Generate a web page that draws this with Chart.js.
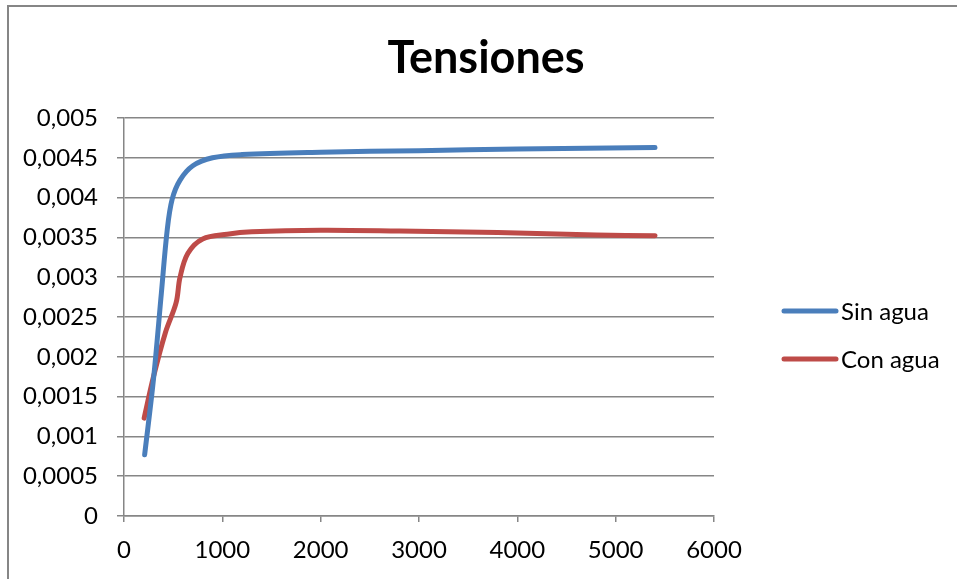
<!DOCTYPE html>
<html>
<head>
<meta charset="utf-8">
<title>Tensiones</title>
<script src="https://cdn.jsdelivr.net/npm/chart.js@4/dist/chart.umd.min.js"></script>
<style>
  html, body { margin: 0; padding: 0; background: #ffffff; }
  canvas { display: block; }
</style>
</head>
<body>
<canvas id="chart" width="957" height="579"></canvas>
<script>
// Series: strain vs. load step, without and with water
const sinAguaX = [210, 300, 380, 440, 490, 570, 700, 900, 1200, 2000, 3000, 4000, 5400];
const sinAguaY = [0.00077, 0.00172, 0.0028, 0.0036, 0.00398, 0.00422, 0.0044, 0.0045, 0.00454, 0.00457, 0.00459, 0.00461, 0.00463];

const conAguaX = [205, 300, 420, 530, 570, 650, 800, 1050, 1300, 2000, 2800, 3800, 4800, 5400];
const conAguaY = [0.00123, 0.00175, 0.0023, 0.00268, 0.003, 0.0033, 0.00348, 0.00354, 0.00357, 0.00359, 0.00358, 0.00356, 0.00353, 0.00352];

const seriesNames = ['Sin agua', 'Con agua'];
const seriesColors = ['#4A7EBB', '#BE4B48'];

const xTickLabels = ['0', '1000', '2000', '3000', '4000', '5000', '6000'];
const yTickLabels = ['0', '0,0005', '0,001', '0,0015', '0,002', '0,0025', '0,003', '0,0035', '0,004', '0,0045', '0,005'];

const toPoints = (xs, ys) => xs.map((x, i) => ({ x: x, y: ys[i] }));

const GRID = '#868686';
const FONT = 'Lato';

// White background plus the frame around the whole chart
const framePlugin = {
  id: 'frame',
  beforeDraw(chart) {
    const ctx = chart.ctx;
    ctx.save();
    ctx.fillStyle = '#ffffff';
    ctx.fillRect(0, 0, chart.width, chart.height);
    ctx.strokeStyle = GRID;
    ctx.lineWidth = 2;
    ctx.beginPath();
    ctx.moveTo(8, chart.height);
    ctx.lineTo(8, 6);
    ctx.lineTo(chart.width, 6);
    ctx.stroke();
    ctx.restore();
  }
};

// Legend to the right of the plot: a short line sample followed by the name
const sideLegend = {
  id: 'sideLegend',
  afterDraw(chart) {
    const ctx = chart.ctx;
    const area = chart.chartArea;
    const x0 = area.right + 70;
    const lineLen = 52;
    const yMid = (area.top + area.bottom) / 2 - 6;
    ctx.save();
    ctx.font = '24px ' + FONT;
    ctx.textBaseline = 'middle';
    ctx.textAlign = 'left';
    chart.data.datasets.forEach((ds, i) => {
      const y = yMid + i * 48;
      ctx.strokeStyle = ds.borderColor;
      ctx.lineWidth = 5;
      ctx.lineCap = 'round';
      ctx.beginPath();
      ctx.moveTo(x0, y);
      ctx.lineTo(x0 + lineLen, y);
      ctx.stroke();
      ctx.fillStyle = '#000000';
      ctx.fillText(ds.label, x0 + lineLen + 5, y + 1);
    });
    ctx.restore();
  }
};

new Chart(document.getElementById('chart'), {
  type: 'scatter',
  data: {
    datasets: [
      {
        label: seriesNames[0],
        data: toPoints(sinAguaX, sinAguaY),
        showLine: true,
        borderColor: seriesColors[0],
        backgroundColor: seriesColors[0],
        borderWidth: 5,
        borderCapStyle: 'round',
        borderJoinStyle: 'round',
        pointRadius: 0,
        tension: 0.35
      },
      {
        label: seriesNames[1],
        data: toPoints(conAguaX, conAguaY),
        showLine: true,
        borderColor: seriesColors[1],
        backgroundColor: seriesColors[1],
        borderWidth: 5,
        borderCapStyle: 'round',
        borderJoinStyle: 'round',
        pointRadius: 0,
        tension: 0.35
      }
    ]
  },
  options: {
    responsive: false,
    animation: false,
    layout: { padding: { left: 15, right: 0, top: 0, bottom: 0 } },
    plugins: {
      legend: { display: false },
      tooltip: { enabled: false },
      title: {
        display: true,
        text: 'Tensiones',
        color: '#000000',
        font: { family: FONT, size: 45, weight: 'bold', lineHeight: 1.2 },
        padding: { top: 31, bottom: 33 }
      }
    },
    scales: {
      x: {
        type: 'linear',
        min: 0,
        max: 6000,
        afterFit(scale) { scale.height = 63; },
        border: { display: true, color: GRID, width: 1.5 },
        grid: { drawOnChartArea: false, drawTicks: true, tickLength: 6, color: GRID, lineWidth: 1.5 },
        ticks: {
          stepSize: 1000,
          padding: 14,
          color: '#000000',
          font: { family: FONT, size: 24 },
          maxRotation: 0,
          callback: (v, i) => xTickLabels[i]
        }
      },
      y: {
        type: 'linear',
        min: 0,
        max: 0.005,
        afterFit(scale) { scale.width = 109; },
        border: { display: true, color: GRID, width: 1.5 },
        grid: { drawTicks: true, tickLength: 7, color: GRID, lineWidth: 1.5 },
        ticks: {
          stepSize: 0.0005,
          padding: 19,
          color: '#000000',
          font: { family: FONT, size: 24 },
          callback: (v, i) => yTickLabels[i]
        }
      },
      // empty strip on the right that holds the legend
      legendSpace: {
        type: 'linear',
        position: 'right',
        min: 0,
        max: 0.005,
        afterFit(scale) { scale.width = 243; },
        border: { display: false },
        grid: { display: false },
        ticks: { display: false }
      }
    }
  },
  plugins: [framePlugin, sideLegend]
});
</script>
</body>
</html>
